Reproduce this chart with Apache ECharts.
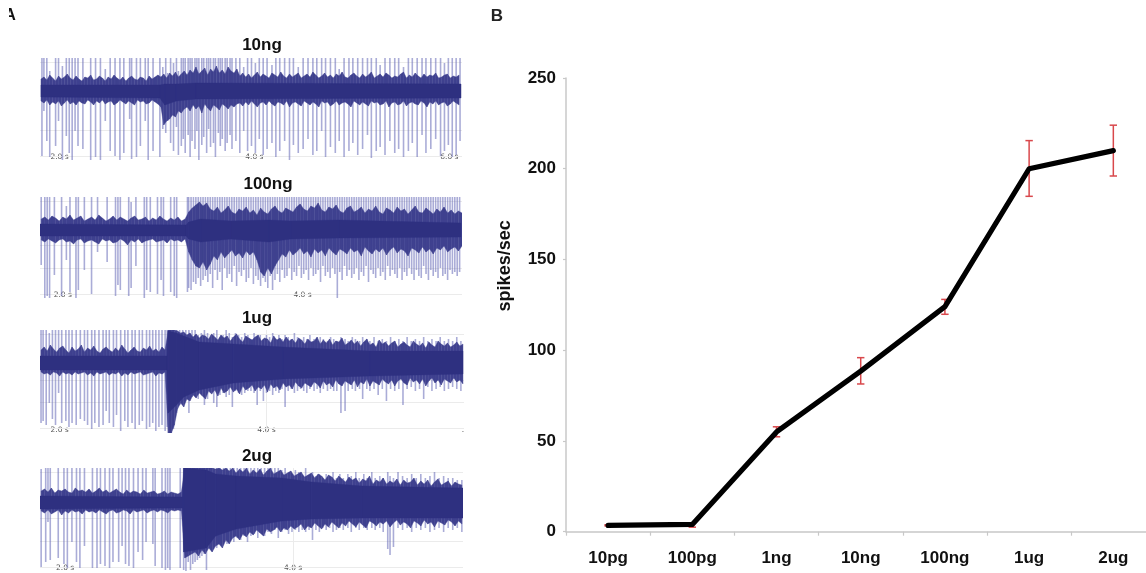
<!DOCTYPE html>
<html><head><meta charset="utf-8">
<style>html,body{margin:0;padding:0;background:#fff;overflow:hidden}#c{width:1146px;height:573px}</style>
<script src="https://cdn.jsdelivr.net/npm/echarts@6/dist/echarts.min.js"></script>
</head><body><div id="c"></div>
<script>
// Panel B
const doses = ['10pg','100pg','1ng','10ng','100ng','1ug','2ug'];
const meanRates = [3.5,4,55,88.5,124,200,210];
const errLow = [3.2,2.5,52.3,81.4,119.8,184.8,196];
const errHigh = [3.8,4.8,57.8,95.9,128,215.5,224];

// Panel A: [time s, upper peak, lower peak] for each visible spike
const spikes10ng = [[1.82,33,-65],[1.84,33,-20],[1.87,33,-50],[1.90,20,-66],[1.96,33,-55],[1.99,33,-30],[2.03,25,-69],[2.07,33,-45],[2.10,33,-62],[2.13,33,-69],[2.16,33,-40],[2.19,33,-55],[2.24,33,-58],[2.32,33,-69],[2.37,33,-66],[2.42,33,-69],[2.47,22,-30],[2.52,33,-60],[2.57,33,-65],[2.62,33,-69],[2.66,33,-62],[2.72,33,-28],[2.74,33,-68],[2.79,33,-66],[2.83,33,-55],[2.88,33,-30],[2.91,33,-69],[2.96,33,-60],[3.03,33,-66],[3.06,24,-38],[3.09,33,-42],[3.11,18,-30],[3.14,33,-52],[3.17,28,-60],[3.20,33,-36],[3.22,20,-64],[3.25,33,-55],[3.27,33,-48],[3.29,33,-62],[3.32,33,-44],[3.34,33,-66],[3.36,33,-50],[3.39,33,-58],[3.41,33,-40],[3.43,33,-69],[3.46,33,-54],[3.48,33,-46],[3.51,33,-62],[3.53,33,-38],[3.55,33,-56],[3.58,33,-52],[3.60,33,-66],[3.63,33,-42],[3.65,33,-55],[3.67,33,-48],[3.70,33,-60],[3.72,33,-52],[3.75,33,-44],[3.77,33,-58],[3.81,33,-50],[3.85,33,-62],[3.89,24,-40],[3.93,33,-60],[3.97,33,-55],[4.01,28,-62],[4.05,33,-48],[4.09,33,-64],[4.13,33,-58],[4.18,26,-52],[4.22,33,-66],[4.26,33,-60],[4.31,33,-50],[4.36,33,-69],[4.40,33,-54],[4.45,24,-62],[4.50,33,-58],[4.55,33,-48],[4.60,33,-64],[4.64,33,-60],[4.69,33,-40],[4.73,33,-66],[4.78,33,-56],[4.83,33,-62],[4.87,22,-50],[4.92,33,-66],[4.97,33,-60],[5.01,33,-52],[5.06,33,-64],[5.11,33,-58],[5.16,33,-44],[5.20,33,-67],[5.25,33,-60],[5.29,26,-56],[5.34,33,-64],[5.39,33,-50],[5.44,33,-62],[5.48,33,-58],[5.53,24,-66],[5.58,33,-60],[5.62,33,-52],[5.67,33,-66],[5.72,33,-44],[5.76,33,-62],[5.81,33,-58],[5.86,33,-48],[5.91,33,-65],[5.95,28,-60],[5.99,33,-54],[6.03,33,-66],[6.07,33,-64],[6.11,33,-50]];
const spikes100ng = [[1.82,33,-35],[1.85,33,-68],[1.87,33,-66],[1.89,33,-68],[1.93,33,-45],[1.99,33,-66],[2.03,24,-30],[2.06,33,-62],[2.11,33,-68],[2.13,33,-60],[2.18,33,-40],[2.24,33,-64],[2.29,33,-22],[2.37,33,-32],[2.44,33,-66],[2.46,33,-55],[2.48,33,-60],[2.55,33,-66],[2.57,28,-58],[2.61,33,-36],[2.68,33,-68],[2.70,33,-60],[2.73,33,-62],[2.79,33,-64],[2.82,33,-50],[2.84,33,-66],[2.90,33,-62],[2.93,33,-66],[2.95,33,-68],[3.04,33,-62],[3.05,33,-58],[3.07,33,-60],[3.09,33,-52],[3.11,33,-54],[3.13,33,-48],[3.15,33,-56],[3.17,33,-50],[3.19,33,-46],[3.21,33,-52],[3.23,33,-44],[3.25,33,-58],[3.27,33,-40],[3.29,33,-50],[3.31,33,-42],[3.33,33,-60],[3.35,33,-38],[3.37,33,-48],[3.39,33,-44],[3.41,33,-52],[3.43,33,-36],[3.45,33,-56],[3.47,33,-42],[3.49,33,-46],[3.51,33,-40],[3.53,33,-52],[3.55,33,-48],[3.57,33,-38],[3.59,33,-54],[3.61,33,-46],[3.63,33,-50],[3.65,33,-56],[3.67,33,-48],[3.69,33,-52],[3.71,33,-58],[3.73,33,-46],[3.75,33,-60],[3.77,33,-50],[3.79,33,-44],[3.81,33,-52],[3.83,33,-40],[3.85,33,-48],[3.87,33,-46],[3.89,33,-38],[3.91,33,-50],[3.93,33,-42],[3.95,33,-46],[3.97,33,-36],[3.99,33,-48],[4.01,33,-44],[4.03,33,-40],[4.05,33,-50],[4.07,33,-38],[4.09,33,-46],[4.11,33,-44],[4.13,33,-40],[4.15,33,-52],[4.17,33,-36],[4.19,33,-46],[4.21,33,-42],[4.23,33,-48],[4.25,33,-38],[4.27,33,-44],[4.29,33,-68],[4.31,33,-42],[4.33,33,-50],[4.35,33,-36],[4.37,33,-46],[4.39,33,-40],[4.41,33,-48],[4.43,33,-44],[4.45,33,-38],[4.47,33,-50],[4.49,33,-42],[4.51,33,-46],[4.53,33,-36],[4.55,33,-52],[4.57,33,-40],[4.59,33,-44],[4.61,33,-48],[4.63,33,-38],[4.65,33,-46],[4.67,33,-42],[4.69,33,-50],[4.71,33,-36],[4.73,33,-46],[4.75,33,-40],[4.77,33,-44],[4.79,33,-48],[4.81,33,-38],[4.83,33,-50],[4.85,33,-42],[4.87,33,-46],[4.89,33,-38],[4.91,33,-44],[4.93,33,-50],[4.95,33,-40],[4.97,33,-46],[4.99,33,-48],[5.01,33,-36],[5.03,33,-44],[5.05,33,-50],[5.07,33,-40],[5.09,33,-46],[5.11,33,-42],[5.13,33,-48],[5.15,33,-38],[5.17,33,-46],[5.19,33,-44],[5.21,33,-50],[5.23,33,-40],[5.25,33,-44],[5.27,33,-42],[5.29,33,-46],[5.31,33,-42]];
const spikes1ug = [[1.82,33,-60],[1.84,33,-58],[1.87,33,-62],[1.90,30,-40],[1.93,33,-56],[1.96,33,-62],[1.99,33,-30],[2.02,33,-60],[2.06,33,-58],[2.09,33,-64],[2.12,33,-60],[2.16,33,-62],[2.20,33,-56],[2.24,33,-58],[2.27,33,-62],[2.31,33,-66],[2.34,33,-60],[2.38,33,-64],[2.42,33,-62],[2.45,33,-48],[2.48,33,-60],[2.52,33,-64],[2.55,33,-52],[2.59,33,-68],[2.63,33,-58],[2.66,33,-64],[2.70,33,-60],[2.73,33,-66],[2.77,33,-62],[2.80,33,-58],[2.84,33,-66],[2.87,33,-64],[2.90,33,-60],[2.93,33,-68],[2.96,33,-64],[2.99,33,-62],[3.02,33,-68],[3.04,33,-64],[3.06,33,-70],[3.08,33,-70],[3.10,33,-66],[3.13,33,-50],[3.16,33,-42],[3.19,33,-38],[3.22,33,-36],[3.25,33,-50],[3.28,33,-34],[3.31,33,-30],[3.34,28,-36],[3.37,30,-30],[3.40,33,-42],[3.43,30,-36],[3.46,28,-30],[3.49,30,-40],[3.52,33,-44],[3.55,26,-32],[3.58,28,-30],[3.61,33,-34],[3.64,30,-32],[3.67,26,-44],[3.70,30,-28],[3.73,28,-30],[3.76,26,-32],[3.79,30,-30],[3.82,28,-28],[3.85,24,-28],[3.88,30,-30],[3.91,26,-42],[3.94,28,-28],[3.97,24,-38],[4.00,28,-30],[4.03,26,-28],[4.06,30,-32],[4.09,24,-28],[4.12,28,-30],[4.15,24,-26],[4.18,28,-44],[4.21,26,-28],[4.24,24,-26],[4.27,30,-30],[4.30,26,-28],[4.33,22,-26],[4.36,26,-28],[4.39,24,-30],[4.42,28,-26],[4.46,24,-28],[4.49,22,-26],[4.52,26,-30],[4.55,24,-26],[4.59,22,-28],[4.62,26,-26],[4.65,24,-28],[4.68,22,-28],[4.72,26,-50],[4.76,24,-48],[4.79,22,-28],[4.83,26,-26],[4.86,24,-28],[4.90,22,-26],[4.93,26,-36],[4.97,24,-26],[5.00,22,-28],[5.04,26,-26],[5.08,22,-32],[5.12,24,-26],[5.16,22,-38],[5.20,26,-26],[5.24,22,-28],[5.28,24,-26],[5.32,22,-42],[5.36,26,-26],[5.40,22,-24],[5.44,24,-28],[5.48,22,-26],[5.52,26,-36],[5.56,22,-24],[5.60,24,-28],[5.64,22,-26],[5.68,26,-24],[5.72,22,-28],[5.76,24,-26],[5.80,22,-24],[5.84,26,-26],[5.88,22,-28]];
const spikes2ug = [[1.79,33,-65],[1.83,34,-60],[1.85,34,-20],[1.87,34,-58],[1.94,34,-56],[1.99,34,-62],[2.02,34,-66],[2.06,34,-40],[2.10,34,-60],[2.13,34,-66],[2.17,34,-44],[2.24,34,-66],[2.28,34,-66],[2.31,34,-62],[2.35,34,-64],[2.39,34,-66],[2.42,34,-60],[2.47,34,-60],[2.50,34,-44],[2.53,34,-62],[2.56,34,-64],[2.60,34,-66],[2.64,34,-50],[2.68,34,-58],[2.71,34,-40],[2.77,34,-42],[2.79,34,-64],[2.85,34,-66],[2.88,34,-68],[2.90,34,-66],[2.92,34,-68],[3.01,34,-66],[3.04,34,-68],[3.06,34,-69],[3.08,34,-60],[3.10,34,-68],[3.12,34,-62],[3.14,34,-60],[3.16,34,-58],[3.18,34,-56],[3.20,34,-54],[3.22,34,-52],[3.24,34,-68],[3.27,34,-44],[3.30,34,-42],[3.33,34,-46],[3.36,34,-40],[3.39,34,-38],[3.42,34,-42],[3.45,34,-36],[3.48,34,-40],[3.51,34,-36],[3.54,34,-38],[3.57,34,-34],[3.60,34,-40],[3.63,34,-34],[3.66,34,-32],[3.69,34,-36],[3.72,34,-30],[3.75,34,-34],[3.78,34,-30],[3.81,34,-32],[3.84,34,-28],[3.87,34,-36],[3.90,32,-30],[3.93,34,-28],[3.96,30,-32],[3.99,28,-30],[4.02,32,-28],[4.05,30,-30],[4.08,26,-28],[4.11,34,-30],[4.14,26,-28],[4.17,30,-38],[4.20,26,-28],[4.23,28,-30],[4.26,24,-26],[4.29,28,-28],[4.32,26,-26],[4.35,30,-30],[4.38,24,-28],[4.41,28,-26],[4.44,24,-28],[4.48,28,-26],[4.51,26,-30],[4.55,30,-26],[4.58,24,-28],[4.62,28,-26],[4.65,24,-28],[4.69,30,-26],[4.72,24,-28],[4.76,26,-26],[4.79,24,-30],[4.83,30,-47],[4.85,26,-53],[4.88,24,-45],[4.92,30,-26],[4.96,26,-28],[5.00,24,-26],[5.04,28,-30],[5.08,24,-26],[5.12,28,-28],[5.16,24,-26],[5.20,26,-30],[5.24,30,-28],[5.28,24,-26],[5.32,26,-30],[5.36,24,-26],[5.40,24,-28],[5.44,22,-26],[5.48,22,-30]];

// Panel A: dense noise core, [time s, top, bottom]
const core10ng = [[1.81,6,-6],[3.03,6,-7],[3.08,7,-14],[3.2,7,-10],[3.4,8,-8],[6.12,7,-7]];
const core100ng = [[1.81,6,-6],[3.03,5,-6],[3.05,8,-9],[3.15,11,-12],[3.4,9,-9],[3.72,10,-12],[3.9,9,-9],[4.3,10,-8],[5.32,7,-7]];
const core1ug = [[1.81,7,-7],[3.04,7,-7],[3.05,32,-50],[3.13,30,-42],[3.2,27,-34],[3.35,21,-27],[3.68,19,-20],[4.16,16,-16],[5.0,12,-13],[5.9,12,-11]];
const core2ug = [[1.78,6,-7],[3.03,5,-6],[3.04,34,-50],[3.24,32,-46],[3.32,28,-34],[3.5,26,-27],[3.9,24,-19],[4.16,20,-17],[4.6,16,-16],[5.49,14,-16]];

// Panel A: upper and lower edge of the noise, read every fringeStep seconds
const fringeStep = 0.03;
const fringeTop10ng = [12,14,11,16,13,10,15,12,14,17,13,11,15,12,10,14,13,16,11,12,15,13,10,14,12,16,13,11,14,10,13,15,12,11,14,13,10,15,12,14,16,14,17,13,18,15,19,14,17,20,16,21,18,24,17,20,23,16,22,19,25,18,21,17,24,20,18,22,15,18,14,17,13,16,19,14,17,15,13,18,16,14,19,15,13,17,14,16,18,13,15,17,14,19,16,13,15,18,14,16,13,17,15,19,14,13,16,18,15,13,17,14,16,19,13,15,17,14,18,16,13,15,14,17,19,13,16,14,18,15,13,17,14,16,15,18,13,14,16,17,13,15,14,16];
const fringeBot10ng = [-10,-12,-9,-14,-11,-13,-10,-15,-12,-9,-13,-11,-14,-10,-12,-13,-9,-11,-14,-10,-12,-9,-13,-11,-10,-14,-12,-9,-11,-13,-10,-12,-14,-9,-11,-10,-13,-12,-9,-11,-13,-16,-34,-30,-28,-24,-26,-20,-22,-18,-16,-20,-14,-18,-15,-22,-13,-17,-20,-14,-16,-19,-13,-15,-18,-14,-16,-13,-12,-15,-11,-14,-10,-13,-16,-12,-11,-14,-10,-13,-15,-11,-12,-14,-10,-16,-12,-11,-13,-15,-10,-12,-14,-11,-13,-16,-10,-12,-11,-15,-13,-10,-14,-12,-11,-13,-16,-10,-12,-14,-11,-13,-15,-10,-12,-11,-14,-13,-10,-16,-12,-11,-14,-13,-10,-15,-12,-11,-13,-14,-10,-12,-16,-11,-13,-10,-14,-12,-11,-15,-13,-10,-12,-14];
const fringeTop100ng = [11,13,10,14,12,9,13,11,15,10,12,14,9,11,13,10,15,12,9,11,14,10,13,11,9,12,14,10,11,13,9,12,10,14,11,9,12,10,13,9,11,18,22,25,28,24,27,21,19,23,17,20,24,18,16,21,19,23,17,20,15,22,18,16,21,24,19,17,22,20,18,23,26,21,19,24,22,27,20,18,23,21,25,19,17,22,24,18,20,23,17,21,19,24,18,16,22,20,17,23,19,21,16,20,24,18,17,22,19,16,21,18,23,17,20,16,19,17];
const fringeBot100ng = [-10,-12,-9,-11,-13,-10,-9,-12,-11,-14,-10,-9,-13,-11,-10,-12,-14,-9,-11,-10,-13,-12,-9,-11,-15,-10,-12,-9,-13,-11,-10,-9,-12,-11,-10,-13,-9,-11,-10,-12,-9,-22,-30,-36,-38,-32,-40,-34,-26,-30,-22,-28,-24,-20,-26,-23,-28,-21,-25,-22,-30,-42,-46,-38,-44,-36,-30,-24,-27,-20,-25,-22,-18,-24,-21,-27,-19,-23,-20,-26,-18,-22,-25,-19,-21,-24,-18,-22,-20,-26,-17,-21,-24,-19,-22,-18,-25,-20,-17,-23,-19,-21,-26,-18,-20,-23,-17,-22,-19,-24,-18,-20,-16,-22,-19,-17,-21,-16];
const fringeTop1ug = [13,16,12,18,14,11,15,17,13,10,16,12,14,18,11,15,13,17,12,10,14,16,13,11,15,12,18,14,10,13,16,12,11,15,13,17,12,14,11,16,13,33,33,33,32,30,31,28,30,26,29,25,28,27,24,29,26,23,28,25,27,22,26,29,24,21,27,25,23,26,28,22,25,24,20,27,23,25,21,26,22,24,20,25,23,19,24,21,22,26,19,23,20,24,18,22,21,25,18,20,23,19,22,17,21,24,18,20,16,23,19,21,17,20,22,16,19,21,18,16,22,19,17,20,15,21,18,16,22,19,17,20,16,18,21,17,19];
const fringeBot1ug = [-9,-11,-10,-12,-9,-10,-13,-9,-11,-10,-12,-9,-11,-10,-9,-12,-10,-13,-9,-11,-10,-9,-12,-10,-11,-9,-13,-10,-12,-9,-11,-10,-9,-12,-11,-10,-9,-13,-10,-11,-9,-70,-70,-62,-46,-40,-44,-36,-38,-32,-35,-30,-33,-36,-28,-31,-27,-33,-25,-30,-28,-24,-29,-26,-31,-23,-27,-25,-22,-28,-24,-26,-22,-29,-21,-25,-23,-27,-20,-24,-22,-26,-19,-23,-25,-20,-22,-24,-19,-21,-25,-18,-22,-20,-24,-17,-21,-23,-18,-20,-22,-17,-24,-19,-21,-16,-23,-18,-20,-22,-16,-19,-21,-17,-23,-18,-16,-20,-22,-15,-19,-17,-21,-16,-23,-18,-15,-20,-17,-22,-16,-18,-20,-15,-19,-17,-21];
const fringeTop2ug = [11,13,10,14,9,12,11,13,10,9,14,11,12,10,13,9,11,14,10,12,9,11,13,10,8,12,9,11,10,8,12,9,10,11,8,9,11,8,10,9,8,10,34,34,34,34,34,34,34,34,34,33,34,32,34,31,34,29,33,30,34,28,32,29,33,27,31,34,28,30,32,27,29,31,26,28,30,25,27,29,24,28,26,22,27,25,21,26,23,20,25,22,24,19,23,21,26,18,22,20,24,18,21,19,23,17,22,19,20,24,17,21,18,22,16,20,23,17,19,21,16,20,18,17];
const fringeBot2ug = [-9,-11,-8,-12,-10,-8,-13,-9,-11,-8,-10,-9,-12,-8,-10,-9,-11,-8,-10,-12,-9,-8,-11,-10,-8,-9,-12,-8,-10,-9,-8,-11,-9,-8,-10,-8,-9,-11,-8,-9,-8,-9,-56,-54,-52,-50,-54,-48,-52,-46,-50,-44,-42,-46,-38,-42,-36,-34,-38,-32,-35,-30,-33,-28,-31,-34,-27,-30,-28,-25,-30,-26,-28,-24,-27,-25,-22,-28,-24,-26,-21,-24,-27,-22,-25,-20,-23,-26,-21,-24,-19,-22,-25,-20,-23,-26,-19,-21,-24,-20,-22,-19,-25,-21,-18,-23,-20,-22,-26,-19,-21,-24,-18,-22,-20,-25,-19,-21,-23,-18,-20,-24,-19,-22];

const panelNames = ['10ng','100ng','1ug','2ug'];
const panelSpikes = [spikes10ng,spikes100ng,spikes1ug,spikes2ug];
const panelCores = [core10ng,core100ng,core1ug,core2ug];
const panelFringeTop = [fringeTop10ng,fringeTop100ng,fringeTop1ug,fringeTop2ug];
const panelFringeBot = [fringeBot10ng,fringeBot100ng,fringeBot1ug,fringeBot2ug];
const timeRanges = [[1.8,6.13],[1.81,5.33],[1.81,5.91],[1.78,5.49]];
const ampRanges = [[-69,33],[-68,33],[-70,33],[-69,34]];
const tickValues = [[2,4,6],[2,4],[2,4,5.9],[2,4]];
const tickLabels = [['2.0 s','4.0 s','6.0 s'],['2.0 s','4.0 s'],['2.0 s','4.0 s','.'],['2.0 s','4.0 s']];
const gridLevels = [[29,-39,-65],[29,-15,-38,-64],[29,-17,-39,-65],[30,-16,-39,-65]];
const gridTimes = [[],[],[4],[4]];

const panelBoxes = [{left:40,top:58,w:422,h:102},{left:40,top:197,w:422,h:101},{left:40,top:330,w:424,h:103},{left:40,top:468,w:423,h:103}];
const titlePos = [[262,45],[268,184],[257,318],[257,456]];
const FONT = '"Liberation Sans", Arial, sans-serif';

function vlineItem(color, width, opacity){
  return function(p, api){
    const a = api.coord([api.value(0), api.value(1)]);
    const b = api.coord([api.value(0), api.value(2)]);
    return {type:'line', shape:{x1:a[0],y1:a[1],x2:b[0],y2:b[1]}, style:{stroke:color,lineWidth:width,opacity:opacity}};
  };
}
function ribbonItem(rows, color){
  return function(p, api){
    const i = p.dataIndex;
    if (i >= rows.length-1) return null;
    const r0 = rows[i], r1 = rows[i+1];
    const pts = [api.coord([r0[0],r0[1]]),api.coord([r1[0],r1[1]]),api.coord([r1[0],r1[2]]),api.coord([r0[0],r0[2]])];
    return {type:'polygon', shape:{points:pts}, style:{fill:color,stroke:color,lineWidth:0.4}};
  };
}

const grids=[], xAxes=[], yAxes=[], series=[], titles=[];
panelNames.forEach((name,k)=>{
  const box = panelBoxes[k];
  grids.push({left:box.left,top:box.top,width:box.w,height:box.h});
  xAxes.push({type:'value',gridIndex:k,min:timeRanges[k][0],max:timeRanges[k][1],
    axisLine:{show:false},axisTick:{show:false},splitLine:{show:false},
    axisLabel:{inside:true,margin:-1,customValues:tickValues[k],fontSize:7.5,fontFamily:'"DejaVu Sans"',color:'#555',
      formatter:v=>tickLabels[k][tickValues[k].indexOf(v)]}});
  yAxes.push({type:'value',gridIndex:k,min:ampRanges[k][0],max:ampRanges[k][1],show:false,splitLine:{show:false}});
  const fringeRows = panelFringeTop[k].map((v,i)=>[+(timeRanges[k][0]+0.01+i*fringeStep).toFixed(2),v,panelFringeBot[k][i]]);
  series.push({type:'custom',xAxisIndex:k,yAxisIndex:k,data:[],renderItem:()=>null,z:1,silent:true,
    markLine:{z:1,silent:true,symbol:'none',label:{show:false},animation:false,lineStyle:{color:'#ebebeb',width:1,type:'solid'},
      data:gridLevels[k].map(v=>({yAxis:v})).concat(gridTimes[k].map(v=>({xAxis:v})))}});
  series.push({type:'custom',xAxisIndex:k,yAxisIndex:k,data:panelSpikes[k],renderItem:vlineItem('#6568b6',1.6,0.55),clip:true,z:2,silent:true,encode:{x:0,y:[1,2]}});
  series.push({type:'custom',xAxisIndex:k,yAxisIndex:k,data:fringeRows,renderItem:ribbonItem(fringeRows,'#3f418f'),clip:true,z:3,silent:true,encode:{x:0,y:[1,2]}});
  series.push({type:'custom',xAxisIndex:k,yAxisIndex:k,data:panelCores[k],renderItem:ribbonItem(panelCores[k],'#2e3080'),clip:true,z:4,silent:true,encode:{x:0,y:[1,2]}});
  titles.push({text:name,left:titlePos[k][0],top:titlePos[k][1],textAlign:'center',textVerticalAlign:'middle',padding:0,
    textStyle:{fontFamily:FONT,fontWeight:'bold',fontSize:17,color:'#111'}});
});

// Panel B: the axis runs off the right edge of the picture
const doseIdx = doses.map((d,i)=>i);
grids.push({left:566,top:78,right:0,height:453.7});
xAxes.push({type:'value',gridIndex:4,min:-0.5,max:6.388,
  axisLine:{onZero:false,lineStyle:{color:'#c8c8c8',width:1.5}},
  axisTick:{length:4,customValues:doseIdx.map(i=>i-0.5),lineStyle:{color:'#c8c8c8',width:1.2}},
  axisLabel:{margin:18,customValues:doseIdx,formatter:v=>doses[v],color:'#111',fontFamily:FONT,fontWeight:'bold',fontSize:17},splitLine:{show:false}});
yAxes.push({type:'value',gridIndex:4,min:0,max:250,interval:50,
  name:'spikes/sec',nameLocation:'middle',nameGap:52,nameRotate:90,nameTextStyle:{fontFamily:FONT,fontWeight:'bold',fontSize:18,color:'#111',padding:[0,0,0,78]},
  axisLine:{show:true,onZero:false,lineStyle:{color:'#c8c8c8',width:1.5}},axisTick:{show:true,length:3,lineStyle:{color:'#c8c8c8',width:1.2}},
  axisLabel:{margin:10,color:'#111',fontFamily:FONT,fontWeight:'bold',fontSize:17},splitLine:{show:false}});
series.push({type:'custom',xAxisIndex:4,yAxisIndex:4,z:5,silent:true,
  data:doseIdx.map(i=>[i,errLow[i],errHigh[i]]),encode:{x:0,y:[1,2]},
  renderItem(p,api){
    const lo=api.coord([api.value(0),api.value(1)]), hi=api.coord([api.value(0),api.value(2)]);
    const c=3.7, st={stroke:'#d9484c',lineWidth:1.5,fill:'none'};
    return {type:'group',children:[
      {type:'line',shape:{x1:lo[0],y1:lo[1],x2:hi[0],y2:hi[1]},style:st},
      {type:'line',shape:{x1:lo[0]-c,y1:lo[1],x2:lo[0]+c,y2:lo[1]},style:st},
      {type:'line',shape:{x1:hi[0]-c,y1:hi[1],x2:hi[0]+c,y2:hi[1]},style:st}]};
  }});
series.push({type:'line',xAxisIndex:4,yAxisIndex:4,z:6,data:doseIdx.map(i=>[i,meanRates[i]]),showSymbol:false,silent:true,smooth:false,
  lineStyle:{color:'#000',width:5.2,cap:'round',join:'round'}});
titles.push({text:'A',left:10,top:16,textAlign:'center',textVerticalAlign:'middle',padding:0,textStyle:{fontFamily:FONT,fontWeight:'bold',fontSize:16,color:'#111'}});
titles.push({text:'B',left:497,top:16,textAlign:'center',textVerticalAlign:'middle',padding:0,textStyle:{fontFamily:FONT,fontWeight:'bold',fontSize:17,color:'#222'}});

const chart = echarts.init(document.getElementById('c'),null,{renderer:'canvas'});
chart.setOption({animation:false,backgroundColor:'#fff',title:titles,grid:grids,xAxis:xAxes,yAxis:yAxes,series:series,
  graphic:[{type:'rect',left:0,top:6,shape:{width:9,height:20},style:{fill:'#fff'},z:100}]});
</script></body></html>
